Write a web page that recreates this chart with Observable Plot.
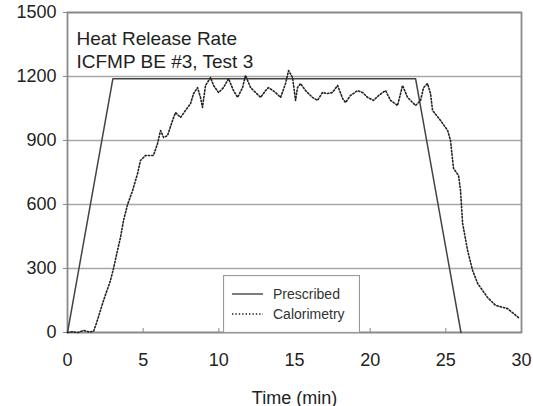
<!DOCTYPE html>
<html>
<head>
<meta charset="utf-8">
<script src="https://cdn.jsdelivr.net/npm/d3@7"></script>
<script src="https://cdn.jsdelivr.net/npm/@observablehq/plot@0.6"></script>
<style>
  body { margin: 0; background: #fff; }
  #wrap { position: relative; width: 533px; height: 406px; font-family: "Liberation Sans", Arial, sans-serif; }
  #legend { position: absolute; left: 223px; top: 275px; }
</style>
</head>
<body>
<div id="wrap"></div>
<script>
const titleLines = ["Heat Release Rate", "ICFMP BE #3, Test 3"];
const xLabel = "Time (min)";
const xTicks = [0, 5, 10, 15, 20, 25, 30];
const yTicks = [0, 300, 600, 900, 1200, 1500];
const seriesNames = ["Prescribed", "Calorimetry"];

const prescribedTime = [0, 3, 23, 26];
const prescribedHRR = [0, 1190, 1190, 0];

const calTime = [0,0.3,0.7,1.06,1.4,1.72,1.92,2.38,2.84,3.04,3.30,3.50,3.70,3.97,4.30,4.63,4.82,5.16,5.68,5.95,6.15,6.35,6.61,6.94,7.14,7.47,7.80,8.13,8.33,8.59,8.79,8.92,9.12,9.45,9.65,9.98,10.31,10.64,10.97,11.24,11.57,11.76,12.10,12.43,12.76,13.09,13.28,13.75,14.08,14.41,14.61,14.87,15.07,15.20,15.40,15.73,16.19,16.52,16.85,17.18,17.51,17.85,18.18,18.37,18.70,19.17,19.50,19.83,20.22,20.56,21.02,21.35,21.81,22.14,22.47,23.0,23.33,23.53,23.79,23.99,24.12,24.65,25.12,25.31,25.45,25.51,25.84,25.97,26.11,26.44,26.77,27.10,27.76,28.29,29.08,29.8];
const calHRR = [0,3,0,10,3,5,45,150,244,300,384,445,525,600,665,745,806,830,830,886,947,914,923,994,1031,1008,1041,1073,1120,1148,1102,1055,1158,1195,1158,1125,1148,1190,1134,1102,1148,1205,1148,1125,1102,1134,1148,1125,1102,1167,1228,1195,1088,1148,1167,1134,1102,1088,1125,1120,1125,1158,1097,1078,1111,1134,1125,1102,1088,1111,1134,1088,1064,1158,1102,1064,1088,1148,1167,1120,1041,994,947,900,806,769,736,666,511,384,291,230,164,127,112,70];

const prescribed = prescribedTime.map((t, i) => ({t, v: prescribedHRR[i]}));
const calorimetry = calTime.map((t, i) => ({t, v: calHRR[i]}));

const FONT = '"Liberation Sans", Arial, sans-serif';
const plain = d => String(d);

const chart = Plot.plot({
  width: 533,
  height: 406,
  marginLeft: 67,
  marginRight: 12,
  marginTop: 12,
  marginBottom: 74,
  style: { fontFamily: FONT, fontSize: "18px", color: "#222", background: "#fff", overflow: "visible" },
  x: { domain: [0, 30] },
  y: { domain: [0, 1500] },
  marks: [
    Plot.gridY(yTicks, { stroke: "#a8a8a8", strokeOpacity: 1, strokeWidth: 1.5 }),
    Plot.frame({ stroke: "#8a8a8a", strokeWidth: 1.8 }),
    Plot.axisY(yTicks, { tickSize: 4, tickPadding: 7, stroke: "#888", fontSize: 18, fill: "#222", tickFormat: plain, label: null }),
    Plot.axisX(xTicks, { tickSize: 0, tickPadding: 21, fontSize: 18, fill: "#222", tickFormat: plain, label: xLabel, labelAnchor: "center", labelOffset: 71, labelArrow: "none" }),
    Plot.axisX(xTicks, { tickSize: -4, text: null, label: null, stroke: "#888" }),
    Plot.line(prescribed, { x: "t", y: "v", stroke: "#444", strokeWidth: 1.5 }),
    Plot.line(calorimetry, { x: "t", y: "v", stroke: "#222", strokeWidth: 1.6, strokeDasharray: "1.4 2" }),
    Plot.text([titleLines.join("\n")], { frameAnchor: "top-left", dx: 9, dy: 15, lineAnchor: "top", textAnchor: "start", fontSize: 19, lineHeight: 1.26, fill: "#222" })
  ]
});
document.getElementById("wrap").appendChild(chart);

// legend overlay
const legend = d3.select("#wrap").append("svg")
  .attr("id", "legend").attr("width", 137).attr("height", 58);
legend.append("rect").attr("x", 0.5).attr("y", 0.5).attr("width", 136).attr("height", 57)
  .attr("fill", "#fff").attr("stroke", "#999").attr("stroke-width", 1.2);
const styles = [{ dash: null, stroke: "#444" }, { dash: "1.4 2", stroke: "#222" }];
seriesNames.forEach((name, i) => {
  const cy = 19 + i * 20;
  legend.append("line").attr("x1", 9).attr("x2", 40).attr("y1", cy).attr("y2", cy)
    .attr("stroke", styles[i].stroke).attr("stroke-width", 1.4)
    .attr("stroke-dasharray", styles[i].dash);
  legend.append("text").attr("x", 50).attr("y", cy + 5).text(name)
    .attr("font-family", FONT).attr("font-size", 14).attr("fill", "#333");
});
</script>
</body>
</html>
